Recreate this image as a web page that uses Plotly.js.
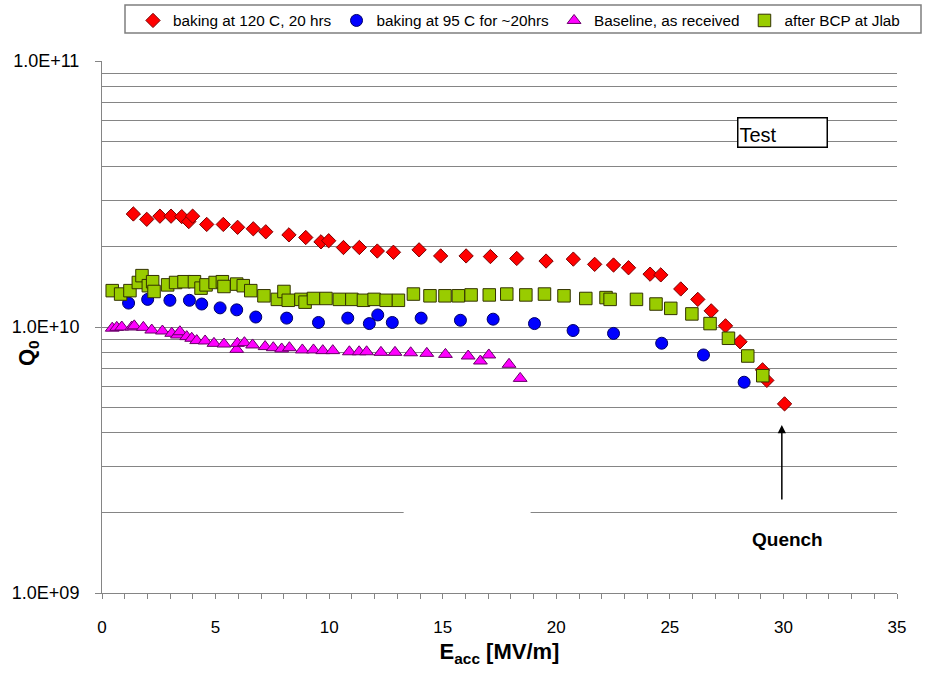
<!DOCTYPE html>
<html>
<head>
<meta charset="utf-8">
<script src="https://cdn.plot.ly/plotly-3.0.1.min.js"></script>
<style>html,body{margin:0;padding:0;background:#fff;}#chart{width:941px;height:677px;}</style>
</head>
<body>
<div id="chart"></div>
<script>
// ---- data ----
const seriesNames = ["baking at 120 C, 20 hrs", "baking at 95 C for ~20hrs", "Baseline, as received", "after BCP at Jlab"];

const bake120_E = [1.38,1.97,2.55,3.04,3.51,3.82,3.99,4.61,5.34,5.97,6.66,7.21,8.23,8.97,9.64,9.98,10.63,11.33,12.12,12.83,13.96,14.91,16.03,17.10,18.26,19.55,20.75,21.69,22.52,23.18,24.13,24.60,25.48,26.23,26.82,27.45,28.09,29.08,29.27,30.05];
const bake120_Q = [2.66e10,2.54e10,2.61e10,2.61e10,2.60e10,2.49e10,2.61e10,2.43e10,2.43e10,2.37e10,2.34e10,2.28e10,2.22e10,2.17e10,2.09e10,2.11e10,1.99e10,1.99e10,1.93e10,1.91e10,1.95e10,1.85e10,1.85e10,1.84e10,1.81e10,1.77e10,1.80e10,1.72e10,1.71e10,1.67e10,1.58e10,1.57e10,1.39e10,1.27e10,1.15e10,1.01e10,8.8e9,6.9e9,6.3e9,5.14e9];

const bake95_E = [1.17,2.01,2.99,3.85,4.39,5.20,5.93,6.77,8.13,9.53,10.82,11.77,12.14,12.78,14.05,15.78,17.22,19.04,20.74,22.52,24.64,26.48,28.27];
const bake95_Q = [1.23e10,1.27e10,1.26e10,1.26e10,1.22e10,1.18e10,1.16e10,1.09e10,1.08e10,1.04e10,1.08e10,1.03e10,1.11e10,1.04e10,1.08e10,1.06e10,1.07e10,1.03e10,9.7e9,9.46e9,8.69e9,7.85e9,6.2e9];

const base_E = [0.45,0.65,0.87,1.31,1.42,1.82,2.19,2.66,3.07,3.32,3.43,3.73,3.95,4.17,4.54,4.93,5.37,5.93,5.96,6.27,6.63,7.18,7.54,7.91,8.25,8.82,9.31,9.72,10.16,10.89,11.32,11.65,12.28,12.90,13.59,14.30,15.12,16.12,16.66,17.03,17.92,18.41];
const base_Q = [9.9e9,9.97e9,1.0e10,1.0e10,1.01e10,9.97e9,9.74e9,9.66e9,9.47e9,9.33e9,9.6e9,9.2e9,9.07e9,8.89e9,8.86e9,8.68e9,8.63e9,8.24e9,8.68e9,8.73e9,8.56e9,8.44e9,8.36e9,8.27e9,8.36e9,8.2e9,8.2e9,8.15e9,8.15e9,8.07e9,8.07e9,8.07e9,8.03e9,8.03e9,8.0e9,7.96e9,7.89e9,7.78e9,7.45e9,7.85e9,7.24e9,6.41e9];

const bcp_E = [0.45,0.82,1.23,1.60,1.76,2.04,2.23,2.29,2.89,3.24,3.61,4.07,4.36,4.58,4.98,5.30,5.37,5.93,6.22,6.55,7.13,7.72,8.01,8.20,8.76,8.94,9.31,9.86,10.45,11.00,11.51,11.98,12.51,13.05,13.71,14.44,15.10,15.69,16.25,17.05,17.82,18.66,19.48,20.34,21.30,22.19,22.37,23.53,24.39,25.04,25.97,26.77,27.58,28.43,29.09];
const bcp_Q = [1.37e10,1.33e10,1.37e10,1.47e10,1.56e10,1.43e10,1.48e10,1.36e10,1.44e10,1.47e10,1.48e10,1.48e10,1.40e10,1.44e10,1.47e10,1.48e10,1.42e10,1.45e10,1.43e10,1.37e10,1.31e10,1.27e10,1.36e10,1.26e10,1.27e10,1.24e10,1.28e10,1.28e10,1.27e10,1.27e10,1.26e10,1.27e10,1.26e10,1.26e10,1.33e10,1.31e10,1.31e10,1.31e10,1.32e10,1.32e10,1.33e10,1.32e10,1.33e10,1.31e10,1.28e10,1.29e10,1.27e10,1.27e10,1.22e10,1.175e10,1.12e10,1.03e10,9.07e9,7.78e9,6.56e9];

const xTickVals = [0, 5, 10, 15, 20, 25, 30, 35];
const xTickText = ["0", "5", "10", "15", "20", "25", "30", "35"];
const xMinorTickVals = [0,1,2,3,4,5,6,7,8,9,10,11,12,13,14,15,16,17,18,19,20,21,22,23,24,25,26,27,28,29,30,31,32,33,34,35];
const yTickVals = [1e9, 1e10, 1e11];
const yTickText = ["1.0E+09", "1.0E+10", "1.0E+11"];
const yMinorVals = [2e9,3e9,4e9,5e9,6e9,7e9,8e9,9e9,2e10,3e10,4e10,5e10,6e10,7e10,8e10,9e10];

const FONT = "Arial, 'Liberation Sans', sans-serif";
const GRID = "#858585";

const traces = [
  {x: bake120_E, y: bake120_Q, name: seriesNames[0], type: "scatter", mode: "markers",
   marker: {symbol: "diamond", size: 11, color: "#FF0000", line: {color: "#7a0000", width: 1}}},
  {x: bake95_E, y: bake95_Q, name: seriesNames[1], type: "scatter", mode: "markers",
   marker: {symbol: "circle", size: 12, color: "#0000FF", line: {color: "#000066", width: 1}}},
  {x: base_E, y: base_Q, name: seriesNames[2], type: "scatter", mode: "markers",
   marker: {symbol: "triangle-up", size: 12, color: "#FF00FF", line: {color: "#660066", width: 1}}},
  {x: bcp_E, y: bcp_Q, name: seriesNames[3], type: "scatter", mode: "markers",
   marker: {symbol: "square", size: 12.5, color: "#99CC00", line: {color: "#333300", width: 1}}}
];

const layout = {
  width: 941, height: 677,
  margin: {l: 102, r: 44, t: 61, b: 84, pad: 0, autoexpand: false},
  paper_bgcolor: "#fff", plot_bgcolor: "#fff",
  font: {family: FONT, color: "#000"},
  showlegend: true,
  legend: {orientation: "h", x: (133 - 102) / 795, xanchor: "left", y: (593 - 4) / 532, yanchor: "top",
           bgcolor: "rgba(0,0,0,0)", borderwidth: 0, font: {family: FONT, size: 15.3, color: "#000"},
           itemwidth: 30, tracegroupgap: 0},
  xaxis: {
    range: [0, 35], showgrid: false, zeroline: false,
    showline: true, linecolor: GRID, linewidth: 1,
    tickmode: "array", tickvals: xTickVals, ticktext: xTickText,
    ticks: "outside", ticklen: 5, tickcolor: GRID, tickwidth: 1,
    minor: {tickmode: "array", tickvals: xMinorTickVals, ticks: "outside", ticklen: 5, tickcolor: GRID, tickwidth: 1, showgrid: false},
    tickfont: {family: FONT, size: 17, color: "#000"},
    ticklabelstandoff: 14,
    title: {text: "E<sub>acc</sub> [MV/m]", font: {family: FONT, size: 22, color: "#000", weight: "bold"}, standoff: 7}
  },
  yaxis: {
    type: "log", range: [9, 11], zeroline: false,
    showline: true, linecolor: GRID, linewidth: 1,
    tickmode: "array", tickvals: yTickVals, ticktext: yTickText,
    ticks: "outside", ticklen: 6, tickcolor: GRID, tickwidth: 1,
    tickfont: {family: FONT, size: 18, color: "#000"},
    ticklabelstandoff: 12,
    showgrid: true, gridcolor: GRID, gridwidth: 1,
    minor: {tickmode: "array", tickvals: yMinorVals, showgrid: true, gridcolor: GRID, gridwidth: 1, ticks: ""}
  },
  shapes: [
    // legend frame
    {type: "rect", xref: "paper", yref: "paper", x0: (125 - 102) / 795, x1: (921 - 102) / 795,
     y0: (593 - 33) / 532, y1: (593 - 5) / 532, line: {color: "#7f7f7f", width: 1.5}, fillcolor: "rgba(0,0,0,0)", layer: "above"},
    // white patch hiding part of the 2E+09 grid line (as in reference)
    {type: "rect", xref: "x", yref: "paper", x0: 13.28, x1: 18.87, y0: 0.138, y1: 0.158,
     line: {width: 0}, fillcolor: "#fff", layer: "above"}
  ],
  annotations: [
    // y-axis title
    {text: "<b>Q<sub>0</sub></b>", xref: "paper", yref: "paper", x: (28 - 102) / 795, y: (593 - 353) / 532,
     xanchor: "center", yanchor: "middle", showarrow: false, textangle: -90,
     font: {family: FONT, size: 22, color: "#000"}},
    {text: "Test", xref: "paper", yref: "paper", x: (737 - 102) / 795, y: (593 - 117) / 532,
     xanchor: "left", yanchor: "top", showarrow: false, align: "left", valign: "bottom",
     width: 86, height: 26, borderpad: 1, bordercolor: "#000", borderwidth: 1.5, bgcolor: "#fff",
     font: {family: FONT, size: 20, color: "#000"}},
    {text: "", xref: "x", yref: "paper", x: 29.93, y: (593 - 425) / 532,
     showarrow: true, axref: "pixel", ayref: "pixel", ax: 0, ay: 76,
     arrowhead: 2, arrowsize: 1.1, arrowwidth: 1.5, arrowcolor: "#000"},
    {text: "<b>Quench</b>", xref: "x", yref: "paper", x: (787 - 102) / 22.714, y: (593 - 539) / 532,
     xanchor: "center", yanchor: "middle", showarrow: false,
     font: {family: FONT, size: 19, color: "#000"}}
  ]
};

Plotly.newPlot("chart", traces, layout, {displayModeBar: false, staticPlot: true});
</script>
</body>
</html>
